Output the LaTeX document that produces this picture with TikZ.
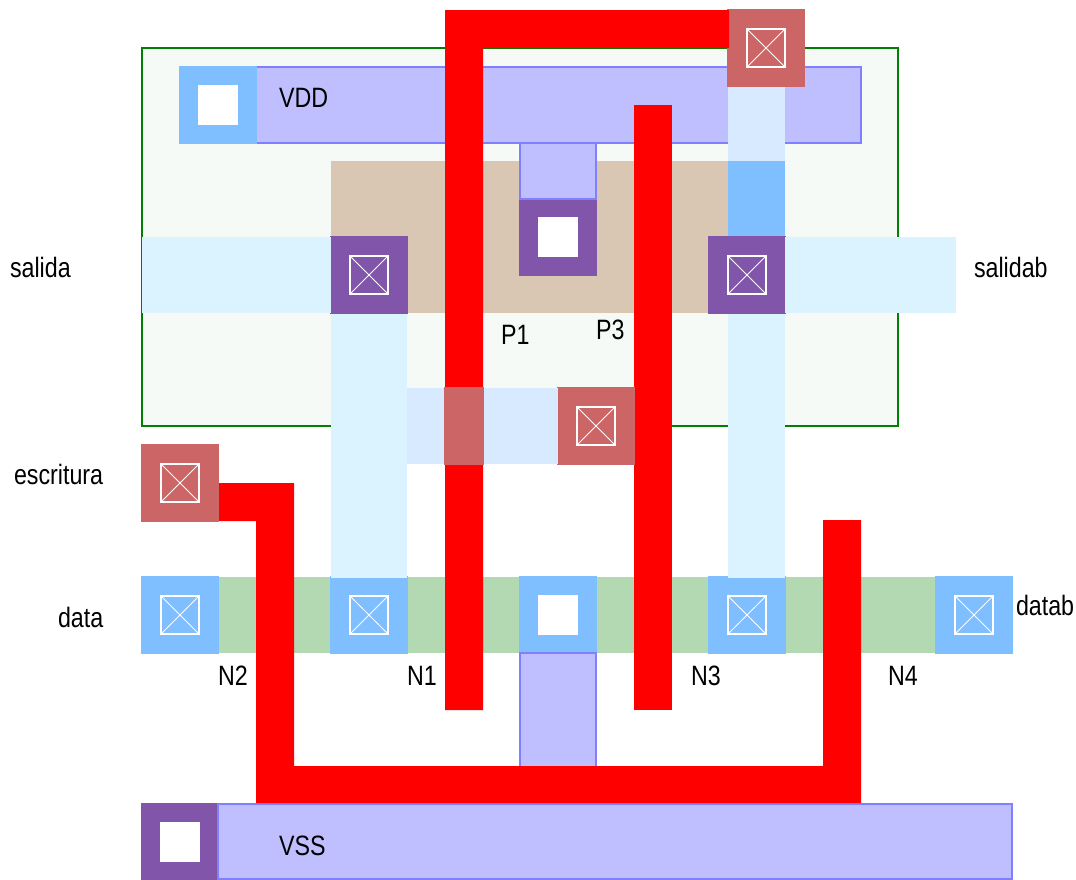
\documentclass[tikz,border=0pt]{standalone}
\usepackage{fontspec}
\usepackage{graphicx}
\setmainfont{Liberation Sans}
\definecolor{wellfill}{HTML}{F5FAF6}
\definecolor{wellline}{HTML}{008000}
\definecolor{metalfill}{HTML}{BFBFFF}
\definecolor{metalline}{HTML}{8080FF}
\definecolor{viaM}{HTML}{8055AA}
\definecolor{ndiffc}{HTML}{80BFFF}
\definecolor{polyc}{HTML}{CC6666}
\definecolor{tanfill}{HTML}{D9C7B3}
\definecolor{lightm}{HTML}{DAF3FF}
\definecolor{lightp}{HTML}{D8EAFF}
\definecolor{diffg}{HTML}{B3D9B3}
\definecolor{wire}{HTML}{FF0000}
\newcommand{\cutx}[2]{%
  \draw[white,line width=2bp] (#1-19,#2-19) rectangle (#1+19,#2+19);
  \draw[white,line width=0.8bp] (#1-19,#2-19) -- (#1+19,#2+19) (#1-19,#2+19) -- (#1+19,#2-19);}
\newcommand{\cuto}[2]{\fill[white] (#1-20,#2-20) rectangle (#1+20,#2+20);}
\newcommand{\pad}[3]{\fill[#3] (#1-39,#2-39) rectangle (#1+39,#2+39);}
\newcommand{\lbl}[1]{\scalebox{0.83}[1]{#1}}
\tikzset{
  well/.style={fill=wellfill,draw=wellline,line width=2bp},
  metal/.style={fill=metalfill,draw=metalline,line width=2bp},
  tag/.style={anchor=base west,inner sep=0pt,outer sep=0pt,text=black,font=\fontsize{28bp}{30bp}\selectfont}
}
\begin{document}
\begin{tikzpicture}[x=1bp,y=-1bp]
\useasboundingbox (0,0) rectangle (1076,880);
\fill[white] (0,0) rectangle (1076,880);
% well
\path[well] (142,48) rectangle (898,426);
% p diffusion
\fill[tanfill] (331,161) rectangle (728,313);
% n diffusion
\fill[diffg] (219,577) rectangle (935,653);
% VDD rail
\path[metal] (250,67) rectangle (861,143);
\pad{218}{105}{ndiffc}
\cuto{218}{105}
\pad{558}{237}{viaM}
\cuto{558}{237}
\path[metal] (520,143) rectangle (596,199);
% VSS rail
\path[metal] (218,804) rectangle (1012,879);
% light wires
\fill[lightp] (728,86) rectangle (785,161);
\fill[ndiffc] (728,161) rectangle (785,237);
% n contacts
\pad{180}{615}{ndiffc}
\cutx{180}{615}
\pad{369}{615}{ndiffc}
\cutx{369}{615}
\pad{558}{615}{ndiffc}
\cuto{558}{615}
\pad{747}{615}{ndiffc}
\cutx{747}{615}
\pad{974}{615}{ndiffc}
\cutx{974}{615}
\path[metal] (520,653) rectangle (596,770);
% light verticals
\fill[lightm] (331,313) rectangle (407,578);
\fill[lightm] (728,313) rectangle (785,578);
% purple contacts
\pad{369}{275}{viaM}
\cutx{369}{275}
\pad{747}{275}{viaM}
\cutx{747}{275}
\fill[lightm] (142,237) rectangle (331,313);
\fill[lightm] (785,237) rectangle (956,313);
% top contact
\pad{766}{48}{polyc}
\cutx{766}{48}
% red wires
\fill[wire] (445,710) -- (445,10) -- (729,10) -- (729,48) -- (483,48) -- (483,710) -- cycle;
\fill[wire] (634,105) rectangle (672,710);
\fill[wire] (219,483) -- (294,483) -- (294,766) -- (823,766) -- (823,520) -- (861,520) -- (861,803) -- (256,803) -- (256,521) -- (219,521) -- cycle;
% poly crossing + contacts
\pad{596}{426}{polyc}
\cutx{596}{426}
\fill[lightp] (407,388) rectangle (558,464);
\fill[polyc] (444,387) rectangle (484,465);
\pad{180}{483}{polyc}
\cutx{180}{483}
% VSS contact
\fill[viaM] (141,803) rectangle (217,880);
\cuto{180}{842}
% labels
\node[tag] (vdd) at (279,107) {\lbl{VDD}};
\node[tag] (vss) at (279,855) {\lbl{VSS}};
\node[tag] (salida) at (10,277) {\lbl{salida}};
\node[tag] (salidab) at (974,277) {\lbl{salidab}};
\node[tag] (escritura) at (14,484) {\lbl{escritura}};
\node[tag] (data) at (58,627) {\lbl{data}};
\node[tag] (datab) at (1016,615) {\lbl{datab}};
\node[tag] (p1) at (501,344) {\lbl{P1}};
\node[tag] (p3) at (596,339) {\lbl{P3}};
\node[tag] (n2) at (218,685) {\lbl{N2}};
\node[tag] (n1) at (407,685) {\lbl{N1}};
\node[tag] (n3) at (691,685) {\lbl{N3}};
\node[tag] (n4) at (888,685) {\lbl{N4}};
\end{tikzpicture}
\end{document}
